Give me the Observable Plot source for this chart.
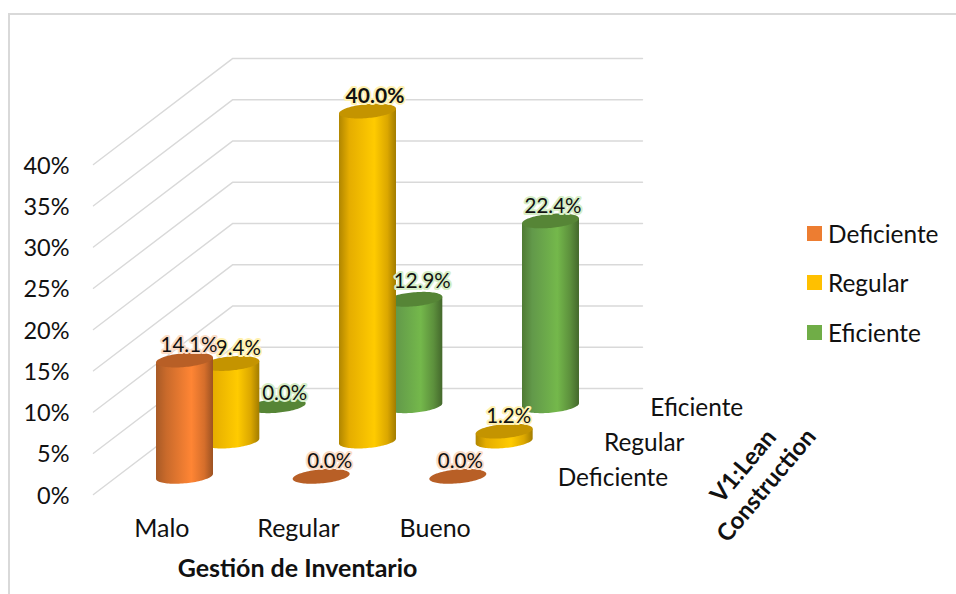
<!DOCTYPE html>
<html lang="es">
<head>
<meta charset="utf-8">
<title>Gestión de Inventario y V1: Lean Construction</title>
<script src="https://cdn.jsdelivr.net/npm/d3@7"></script>
<script src="https://cdn.jsdelivr.net/npm/@observablehq/plot@0.6"></script>
<style>
  html, body { margin: 0; background: #fff; overflow: hidden; }
  #chart { position: relative; width: 956px; height: 594px; overflow: hidden; font-family: Lato, sans-serif; color: #111; }
  #chart svg { display: block; background: transparent; position: absolute; left: 0; top: 0; }
  #border { position: absolute; left: 8px; top: 13px; width: 960px; height: 600px; border: 2px solid #d9d9d9; box-sizing: content-box; }
  #legend { position: absolute; left: 807px; top: 218px; }
  #legend div { display: flex; align-items: center; height: 30px; margin-bottom: 19.5px; font-size: 24.4px; }
  #legend i { display: block; width: 15px; height: 15px; margin-right: 6px; }
</style>
</head>
<body>
<div id="chart"><div id="border"></div></div>
<script>
// Survey results: share of responses per inventory rating and Lean Construction level.
const categories = ["Malo", "Regular", "Bueno"];
const seriesNames = ["Deficiente", "Regular", "Eficiente"];
const deficiente = [14.1, 0, 0];
const regular = [9.4, 40, 1.2];
const eficiente = [0, 12.9, 22.4];
const valueTicks = [0, 5, 10, 15, 20, 25, 30, 35, 40];

const seriesValues = [deficiente, regular, eficiente];

// Colours of each series: legend swatch, cap, side shading and label halo.
const swatch = ["#ed7d31", "#ffc000", "#70ad47"];
const capFill = ["#b85f26", "#c49400", "#568536"];
const halo = ["#fbdcc6", "#fff1b0", "#d6eec6"];
const shading = [
  ["#a85a26", "#c96a2b", "#ff8534", "#d56e2b", "#9c5222"],
  ["#b08600", "#e5ad00", "#ffcb00", "#dba700", "#a27c00"],
  ["#4f7a33", "#62994a", "#74b84b", "#5c8f3c", "#44682c"]
];

// Oblique projection: each series steps back along the floor by this much.
const depthX = 0.339; // category units per series
const depthY = 4.28;  // percentage points per series
const radiusX = 0.2085;
const radiusY = 0.85;
const tilt = 0.3;

// Small label shifts, in pixels, per series and category.
const labelDx = [[4, 8, 2], [7, 7, 4], [7, 8, 2]];
const labelDy = [[-15, -15, -15], [-16, -15, -15], [-13, -18, -15]];

const centreX = (c, s) => c + 0.5 + (s + 0.5) * depthX;
const baseY = s => (s + 0.5) * depthY;
const backX = depthX * seriesNames.length;
const backY = depthY * seriesNames.length;

const angles = d3.range(0, 49).map(k => (k / 48) * Math.PI);

// Outline of a cap: upper and lower edges of a slightly tilted ellipse.
function capOutline(cx, cy) {
  return angles.map(t => ({
    x: cx + radiusX * Math.cos(t),
    upper: cy + radiusY * Math.sin(t) + tilt * Math.cos(t),
    lower: cy - radiusY * Math.sin(t) + tilt * Math.cos(t)
  }));
}

// Side of a cylinder: from the flat top line down to the rounded bottom edge.
function bodyOutline(cx, cy, value) {
  return angles.map(t => ({
    x: cx + radiusX * Math.cos(t),
    upper: cy + value + tilt * Math.cos(t),
    lower: cy - radiusY * Math.sin(t) + tilt * Math.cos(t)
  }));
}

const gridData = valueTicks.flatMap(v => [
  {tick: v, x: 0, y: v},
  {tick: v, x: backX, y: v + backY},
  {tick: v, x: 3 + backX, y: v + backY}
]);

// Rear series are painted first so the nearer cylinders sit in front.
const cylinderMarks = [2, 1, 0].flatMap(s =>
  categories.flatMap((_, c) => {
    const v = seriesValues[s][c];
    const cx = centreX(c, s);
    const cy = baseY(s);
    const marks = [];
    if (v > 0) {
      marks.push(Plot.area(bodyOutline(cx, cy, v), {
        x1: "x", y1: "lower", y2: "upper", fill: `url(#shade-${s})`
      }));
    }
    marks.push(Plot.area(capOutline(cx, cy + v), {
      x1: "x", y1: "lower", y2: "upper", fill: capFill[s]
    }));
    return marks;
  })
);

const labelMarks = [2, 1, 0].flatMap(s =>
  categories.map((_, c) => {
    const v = seriesValues[s][c];
    return Plot.text([v], {
      x: () => centreX(c, s),
      y: d => baseY(s) + d,
      text: d => d.toFixed(1) + "%",
      dx: labelDx[s][c],
      dy: labelDy[s][c],
      fontSize: v === 40 ? 21 : 20.5,
      fontWeight: v === 40 ? 700 : 400,
      fill: "#111",
      stroke: halo[s],
      strokeWidth: 4,
      paintOrder: "stroke"
    });
  })
);

// Horizontal shading used on the cylinder sides.
function gradients() {
  const defs = d3.create("svg:defs");
  shading.forEach((stops, s) => {
    const g = defs.append("linearGradient").attr("id", `shade-${s}`);
    [0, 0.18, 0.62, 0.85, 1].forEach((o, k) =>
      g.append("stop").attr("offset", o).attr("stop-color", stops[k])
    );
  });
  return defs.node();
}

const plot = Plot.plot({
  width: 956,
  height: 594,
  marginLeft: 93,
  marginRight: 453,
  marginTop: 164,
  marginBottom: 100,
  style: {fontFamily: "Lato, sans-serif", color: "#111", background: "transparent"},
  x: {domain: [0, 3]},
  y: {domain: [0, 40]},
  marks: [
    gradients,
    Plot.line(gridData, {x: "x", y: "y", z: "tick", stroke: "#d9d9d9", strokeWidth: 1.4}),
    Plot.axisY({
      ticks: valueTicks,
      tickFormat: d => d + "%",
      tickSize: 0,
      tickPadding: 24,
      dy: 1.5,
      fontSize: 23.5,
      label: null
    }),
    Plot.axisX({
      ticks: [0.5, 1.5, 2.5],
      tickFormat: d => categories[Math.floor(d)],
      tickSize: 0,
      tickPadding: 25,
      fontSize: 25,
      label: null
    }),
    ...cylinderMarks,
    ...labelMarks,
    // Depth axis labels follow the floor edge of each series.
    Plot.text(seriesNames, {
      x: (_, s) => 3 + (s + 0.5) * depthX,
      y: (_, s) => baseY(s),
      text: d => d,
      dx: 31,
      dy: 1.5,
      textAnchor: "start",
      fontSize: 24.4,
      fill: "#111"
    }),
    Plot.text(["Gestión de Inventario"], {
      x: 1.5,
      frameAnchor: "bottom",
      dx: -1,
      dy: 82,
      text: d => d,
      fontSize: 25,
      fontWeight: 700,
      fill: "#111"
    }),
    Plot.text(["V1:Lean\nConstruction"], {
      x: 3 + backX,
      frameAnchor: "bottom",
      dx: 130,
      dy: -4,
      text: d => d,
      rotate: -50,
      fontSize: 24,
      lineHeight: 1.25,
      fontWeight: 700,
      fill: "#111"
    })
  ]
});

const chart = document.getElementById("chart");
chart.appendChild(plot);

// Legend on the right, built from the series names and colours.
const legend = d3.select(chart).append("div").attr("id", "legend");
seriesNames.forEach((name, s) => {
  const row = legend.append("div");
  row.append("i").style("background", swatch[s]);
  row.append("span").text(name);
});
</script>
</body>
</html>
